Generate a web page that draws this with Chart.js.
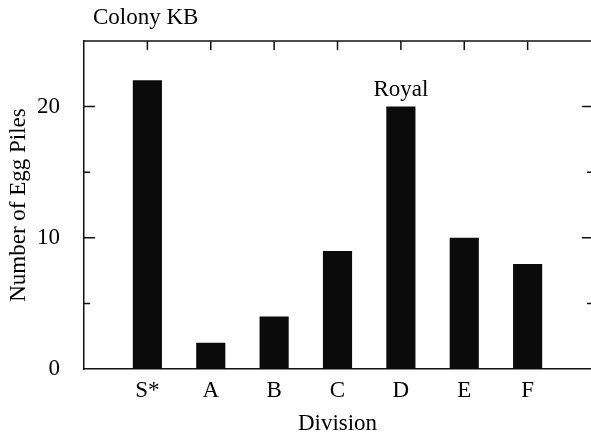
<!DOCTYPE html>
<html>
<head>
<meta charset="utf-8">
<script src="https://cdn.jsdelivr.net/npm/chart.js@4/dist/chart.umd.min.js"></script>
<style>
  html, body { margin: 0; padding: 0; background: #fff; }
  #wrap { width: 591px; height: 435px; }
</style>
</head>
<body>
<div id="wrap"><canvas id="myChart"></canvas></div>
<script>
// data
const divisions = ['S*', 'A', 'B', 'C', 'D', 'E', 'F'];
const eggPiles = [22, 2, 4, 9, 20, 10, 8];
const yTicks = [0, 10, 20];
const chartTitle = 'Colony KB';
const barNote = { index: 4, text: 'Royal' };

const FONT = 'Liberation Serif';

// inward ticks, top frame line, title and note
const framePlugin = {
  id: 'frame',
  afterDraw(chart) {
    const ctx = chart.ctx;
    const a = chart.chartArea;
    const x = chart.scales.x;
    const y = chart.scales.y;
    ctx.save();
    ctx.strokeStyle = '#111';
    ctx.lineWidth = 1.5;
    ctx.beginPath();
    ctx.moveTo(a.left, a.top);
    ctx.lineTo(a.right, a.top);
    ctx.stroke();

    // y ticks on both sides
    y.ticks.forEach(t => {
      const v = t.value;
      if (v <= y.min || v >= y.max) return;
      const py = y.getPixelForValue(v);
      const major = v % 10 === 0;
      ctx.beginPath();
      ctx.moveTo(a.left, py);
      ctx.lineTo(a.left + (major ? 11 : 6), py);
      ctx.moveTo(a.right, py);
      ctx.lineTo(a.right - (major ? 9 : 4), py);
      ctx.stroke();
    });
    // x ticks on top
    divisions.forEach((d, i) => {
      const px = x.getPixelForValue(i);
      ctx.beginPath();
      ctx.moveTo(px, a.top);
      ctx.lineTo(px, a.top + 9);
      ctx.stroke();
    });

    ctx.fillStyle = '#000';
    ctx.font = '23px "' + FONT + '"';
    ctx.textBaseline = 'middle';
    ctx.textAlign = 'left';
    ctx.fillText(chartTitle, a.left + 9, 18);

    const bar = chart.getDatasetMeta(0).data[barNote.index];
    ctx.textAlign = 'center';
    ctx.fillText(barNote.text, bar.x, bar.y - 17);
    ctx.restore();
  }
};

const data = {
  datasets: [{
    data: eggPiles.map((v, i) => ({ x: i, y: v })),
    backgroundColor: '#0b0b0b',
    borderWidth: 0,
    barPercentage: 0.46,
    categoryPercentage: 1
  }]
};

const config = {
  type: 'bar',
  data,
  options: {
    responsive: true,
    maintainAspectRatio: false,
    animation: false,
    layout: { padding: { top: 41, right: 0, left: 0, bottom: 0 } },
    plugins: {
      legend: { display: false },
      tooltip: { enabled: false }
    },
    scales: {
      x: {
        type: 'linear',
        offset: false,
        min: -1,
        max: 7,
        grid: { display: false, offset: false },
        border: { display: true, color: '#111', width: 1.5 },
        ticks: {
          stepSize: 1,
          autoSkip: false,
          maxRotation: 0,
          padding: 0,
          color: '#000',
          font: { family: FONT, size: 23 },
          callback: v => divisions[v] !== undefined ? divisions[v] : ''
        },
        title: {
          display: true,
          text: 'Division',
          color: '#000',
          font: { family: FONT, size: 23 },
          padding: { top: 4, bottom: -3 }
        },
        afterFit: s => { s.height = 66; }
      },
      y: {
        min: 0,
        max: 25,
        grid: { display: false },
        border: { display: true, color: '#111', width: 1.5 },
        ticks: {
          stepSize: 5,
          padding: 16,
          color: '#000',
          font: { family: FONT, size: 23 },
          callback: v => yTicks.includes(v) ? v : ''
        },
        title: {
          display: true,
          text: 'Number of Egg Piles',
          color: '#000',
          font: { family: FONT, size: 23 },
          padding: { top: 5, bottom: 12 }
        },
        afterFit: s => { s.width = 84; }
      }
    }
  },
  plugins: [framePlugin]
};

const myChart = new Chart(document.getElementById('myChart'), config);
</script>
</body>
</html>
